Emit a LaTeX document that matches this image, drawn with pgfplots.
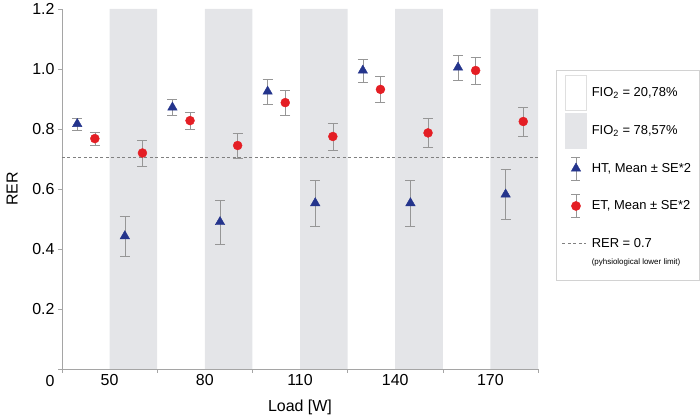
\documentclass[border=0pt]{standalone}
\usepackage{fontspec}
\setmainfont{Liberation Sans}
\usepackage{pgfplots}
\usepackage{pgfplotstable}
\pgfplotsset{compat=1.18}

\definecolor{htblue}{RGB}{36,52,140}
\definecolor{etred}{RGB}{228,30,36}
\definecolor{band}{RGB}{228,229,232}
\definecolor{axgray}{RGB}{165,165,165}
\definecolor{errgray}{RGB}{150,150,150}

% slot k = load group (k div 2), odd slots = FIO2 78,57%
\pgfplotstableread{
x    y     e
0.32 0.817 0.020
1.32 0.443 0.067
2.32 0.872 0.028
3.32 0.490 0.073
4.32 0.925 0.042
5.32 0.553 0.077
6.32 0.995 0.038
7.32 0.553 0.077
8.32 1.005 0.042
9.32 0.582 0.082
}\httable

\pgfplotstableread{
x    y     e
0.69 0.768 0.022
1.69 0.720 0.043
2.69 0.828 0.028
3.69 0.745 0.042
4.69 0.888 0.042
5.69 0.775 0.045
6.69 0.932 0.042
7.69 0.787 0.047
8.69 0.995 0.045
9.69 0.825 0.048
}\ettable

\begin{document}
\begin{tikzpicture}
\path[use as bounding box] (-62bp,-49bp) rectangle (638bp,369bp);
\begin{axis}[
  at={(0,0)}, anchor=south west,
  scale only axis,
  width=476bp, height=360bp,
  xmin=0, xmax=10, ymin=0, ymax=1.2,
  axis x line*=bottom, axis y line*=left,
  axis line style={axgray, line width=0.6pt},
  tick style={axgray, line width=0.6pt},
  tick align=outside,
  major tick length=4bp,
  xtick={0,2,...,10}, xticklabels={},
  extra x ticks={1,3,5,7,9},
  extra x tick labels={50,80,110,140,170},
  extra x tick style={major tick length=0pt, xticklabel style={yshift=-2bp}},
  ytick={0.2,0.4,...,1.2},
  extra y ticks={0},
  extra y tick labels={0},
  extra y tick style={yticklabel style={yshift=-12bp}},
  yticklabel style={/pgf/number format/fixed, /pgf/number format/fixed zerofill,
    /pgf/number format/precision=1},
  /pgf/number format/assume math mode=true,
  ticklabel style={font=\fontsize{16}{18}\selectfont},
  xlabel={Load [W]},
  ylabel={RER},
  every axis x label/.style={at={(axis description cs:0.5,-0.106)}, anchor=center,
    font=\fontsize{16}{18}\selectfont},
  every axis y label/.style={at={(axis description cs:-0.105,0.5)}, rotate=90, anchor=center,
    font=\fontsize{16}{18}\selectfont},
  legend cell align=left,
  legend style={at={(1.0378,0.8306)}, anchor=north west,
    draw=gray!35, fill=white, font=\fontsize{13}{15}\selectfont,
    row sep=2.5bp, inner xsep=6bp, inner ysep=5bp,
    /tikz/every odd column/.append style={column sep=3bp}},
  error bars/error bar style={errgray, line width=0.6pt},
  error bars/error mark options={errgray, rotate=90, mark size=5bp, line width=0.6pt},
]
\addplot[ybar interval, fill=band, draw=none, forget plot]
  coordinates {(1,1.2) (2,0) (3,1.2) (4,0) (5,1.2) (6,0) (7,1.2) (8,0) (9,1.2) (10,0)};
\addplot[gray, line width=0.6pt, dash pattern=on 3bp off 2.5bp, forget plot]
  coordinates {(0,0.707) (10,0.707)};
\addplot[only marks, mark=triangle*, mark size=5.5pt, mark options={htblue}, forget plot,
  error bars/.cd, y dir=both, y explicit]
  table[x=x, y=y, y error=e] {\httable};
\addplot[only marks, mark=*, mark size=4.5pt, mark options={etred}, forget plot,
  error bars/.cd, y dir=both, y explicit]
  table[x=x, y=y, y error=e] {\ettable};

\addlegendimage{legend image code/.code={\draw[draw=gray!25, fill=white] (0bp,-17.5bp) rectangle (21bp,17.5bp);}}
\addlegendentry{FIO\textsubscript{2} = 20,78\%}
\addlegendimage{legend image code/.code={\fill[band] (0bp,-17.5bp) rectangle (21bp,17.5bp);}}
\addlegendentry{FIO\textsubscript{2} = 78,57\%}
\addlegendimage{legend image code/.code={
  \path[draw=none, fill=none] (0bp,-17.5bp) rectangle (21bp,17.5bp);
  \draw[errgray, line width=0.6pt] (10.5bp,-11.5bp) -- (10.5bp,11.5bp)
    (6bp,-11.5bp) -- (15bp,-11.5bp) (6bp,11.5bp) -- (15bp,11.5bp);
  \fill[htblue] (10.5bp,5.5bp) -- (15.26bp,-2.75bp) -- (5.74bp,-2.75bp) -- cycle;}}
\addlegendentry{HT, Mean ± SE*2}
\addlegendimage{legend image code/.code={
  \path[draw=none, fill=none] (0bp,-17.5bp) rectangle (21bp,17.5bp);
  \draw[errgray, line width=0.6pt] (10.5bp,-11.5bp) -- (10.5bp,11.5bp)
    (6bp,-11.5bp) -- (15bp,-11.5bp) (6bp,11.5bp) -- (15bp,11.5bp);
  \fill[etred] (10.5bp,0bp) circle[radius=4.6bp];}}
\addlegendentry{ET, Mean ± SE*2}
\addlegendimage{legend image code/.code={
  \path[draw=none, fill=none] (0bp,-17.5bp) rectangle (21bp,17.5bp);
  \draw[gray, line width=0.6pt, dash pattern=on 3bp off 2.5bp] (-3bp,0bp) -- (21bp,0bp);}}
\addlegendentry{RER = 0.7}
\addlegendimage{empty legend}
\addlegendentry{\raisebox{7bp}[\height][\depth]{\fontsize{8}{9}\selectfont(pyhsiological lower limit)}}
\end{axis}
\end{tikzpicture}
\end{document}
